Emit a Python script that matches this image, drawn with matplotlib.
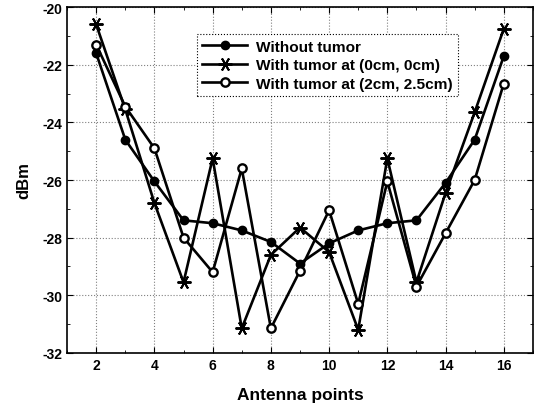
import matplotlib
matplotlib.use('Agg')
import matplotlib.pyplot as plt
from matplotlib.ticker import MultipleLocator

# antenna positions
points = [2, 3, 4, 5, 6, 7, 8, 9, 10, 11, 12, 13, 14, 15, 16]

# received power (dBm)
no_tumor = [-21.6, -24.6, -26.05, -27.4, -27.5, -27.75, -28.15, -28.9, -28.2, -27.75, -27.5, -27.4, -26.1, -24.6, -21.7]
tumor_0_0 = [-20.6, -23.55, -26.8, -29.55, -25.25, -31.15, -28.6, -27.65, -28.5, -31.2, -25.25, -29.55, -26.45, -23.65, -20.75]
tumor_2_25 = [-21.3, -23.45, -24.9, -28.0, -29.2, -25.6, -31.15, -29.15, -27.05, -30.3, -26.05, -29.7, -27.85, -26.0, -22.65]

labels = ['Without tumor', 'With tumor at (0cm, 0cm)', 'With tumor at (2cm, 2.5cm)']

plt.rcParams['font.family'] = ['Liberation Sans', 'DejaVu Sans']
plt.rcParams['font.weight'] = 'bold'
plt.rcParams['axes.unicode_minus'] = False

fig = plt.figure(figsize=(5.41, 4.10), dpi=100)
ax = fig.add_axes([0.124, 0.137, 0.861, 0.843])

# asterisk marker: 6 spokes, one of them vertical
asterisk = (6, 2, 90)

ax.plot(points, no_tumor, color='black', lw=1.9, marker='o', ms=6,
        mfc='black', mec='black', label=labels[0])
ax.plot(points, tumor_0_0, color='black', lw=1.9, marker=asterisk, ms=10, mew=1.4,
        label=labels[1])
ax.plot(points, tumor_2_25, color='black', lw=1.9, marker='o', ms=6,
        mfc='white', mec='black', mew=1.7, label=labels[2])

ax.set_xlim(1, 17)
ax.set_ylim(-32, -20)
ax.xaxis.set_major_locator(MultipleLocator(2))
ax.xaxis.set_minor_locator(MultipleLocator(1))
ax.yaxis.set_major_locator(MultipleLocator(2))
ax.yaxis.set_minor_locator(MultipleLocator(1))
ax.tick_params(which='both', direction='in', top=True, right=True, labelsize=10)
ax.tick_params(which='major', length=4)
ax.tick_params(which='minor', length=2.5)
for lab in ax.get_xticklabels() + ax.get_yticklabels():
    lab.set_fontweight('bold')
ax.grid(True, which='major', linestyle=':', color='gray', lw=0.8)

ax.set_xlabel('Antenna points', fontsize=12.5, fontweight='bold', labelpad=11)
ax.set_ylabel('dBm', fontsize=12, fontweight='bold', labelpad=8)

for s in ax.spines.values():
    s.set_linewidth(1.2)

leg = ax.legend(loc='upper left', bbox_to_anchor=(0.279, 0.922), borderaxespad=0,
                frameon=True, fancybox=False, edgecolor='black', framealpha=1,
                handlelength=2.9, handletextpad=0.6, borderpad=0.35, labelspacing=0.3,
                prop={'weight': 'bold', 'size': 11.1})
leg.get_frame().set_linewidth(0.8)
leg.get_frame().set_linestyle(':')

fig.savefig('out.png', dpi=100)
